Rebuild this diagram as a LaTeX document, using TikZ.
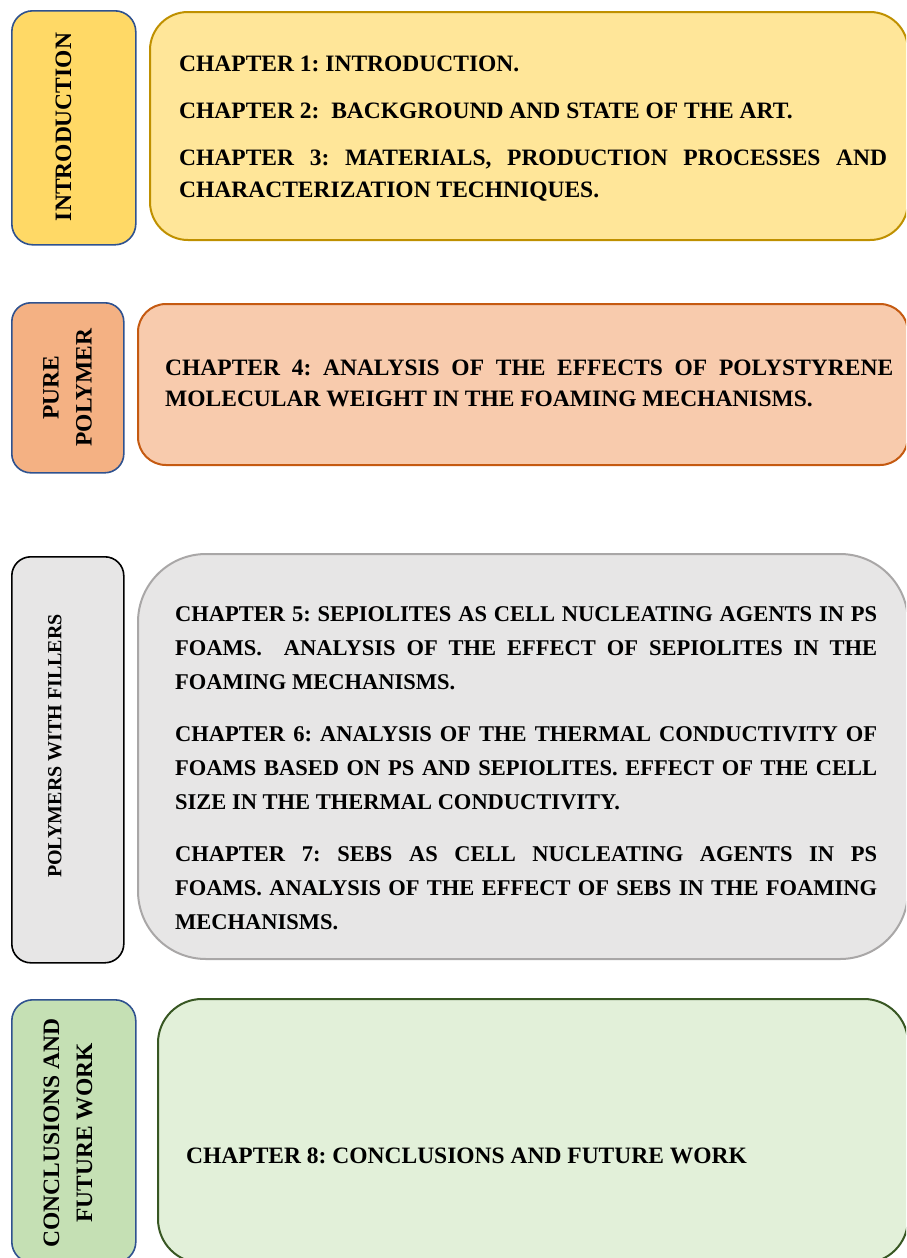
\documentclass[tikz,border=0pt]{standalone}
\usepackage{fontspec}
\setmainfont{Liberation Serif}
\setlength{\parindent}{0pt}
\setlength{\parskip}{0pt}
\frenchspacing

\definecolor{tabblue}{HTML}{2F528F}
\definecolor{introtab}{HTML}{FFD966}
\definecolor{introfill}{HTML}{FFE699}
\definecolor{introedge}{HTML}{BF9000}
\definecolor{puretab}{HTML}{F4B183}
\definecolor{purefill}{HTML}{F8CBAD}
\definecolor{pureedge}{HTML}{C55A11}
\definecolor{filltab}{HTML}{E7E6E6}
\definecolor{fillfill}{HTML}{E7E6E6}
\definecolor{filledge}{HTML}{A9A7A7}
\definecolor{conctab}{HTML}{C5E0B4}
\definecolor{concfill}{HTML}{E2F0D9}
\definecolor{concedge}{HTML}{385723}

\tikzset{
  tab/.style={draw=tabblue, line width=1.6pt, anchor=north west, inner sep=0pt},
  chapbox/.style={line width=2pt, anchor=north west, inner sep=0pt},
  partlabel/.style={font=\fontsize{23.5}{33}\selectfont\bfseries, rotate=90,
    align=center, inner sep=0pt},
  chaptext/.style={anchor=north west, inner sep=0pt, align=justify},
  chapfont/.style 2 args={font=\fontsize{#1}{#2}\selectfont\bfseries}
}

\begin{document}
\begin{tikzpicture}[x=1pt,y=-1pt]
\useasboundingbox (0,0) rectangle (906,1258);
\clip (0,0) rectangle (906,1258);
\hyphenpenalty=10000
\exhyphenpenalty=10000

% ---- Introduction ----
\node[tab, fill=introtab, rounded corners=21pt,
  minimum width=124pt, minimum height=234pt] (tabintro) at (11,10) {};
\node[chapbox, draw=introedge, fill=introfill, rounded corners=38pt,
  minimum width=758pt, minimum height=228pt] (boxintro) at (149,11) {};
\node[partlabel] (labintro) at (63.5,127) {INTRODUCTION};
\node[chaptext, chapfont={23.5}{32}, text width=708pt] (txtintro) at (179,56)
  {CHAPTER 1: INTRODUCTION.\par\vspace{14.5pt}
   CHAPTER 2:\ \ BACKGROUND AND STATE OF THE ART.\par\vspace{15pt}
   CHAPTER 3: MATERIALS, PRODUCTION PROCESSES AND\linebreak
   CHARACTERIZATION TECHNIQUES.};

% ---- Pure polymer ----
\node[tab, fill=puretab, rounded corners=19pt,
  minimum width=112pt, minimum height=170pt] (tabpure) at (11,302) {};
\node[chapbox, draw=pureedge, fill=purefill, rounded corners=28pt,
  minimum width=770pt, minimum height=161pt] (boxpure) at (137,303) {};
\node[partlabel] (labpure) at (67.5,387.5) {PURE\\POLYMER};
\node[chaptext, chapfont={23.5}{31}, text width=728pt] (txtpure) at (165,360)
  {CHAPTER 4: ANALYSIS OF THE EFFECTS OF POLYSTYRENE\linebreak
   MOLECULAR WEIGHT IN THE FOAMING MECHANISMS.};

% ---- Polymers with fillers ----
\node[tab, draw=black, fill=filltab, rounded corners=19pt,
  minimum width=112pt, minimum height=406pt] (tabfill) at (11,556) {};
\node[chapbox, draw=filledge, fill=fillfill, rounded corners=68pt,
  minimum width=770pt, minimum height=405pt] (boxfill) at (137,553) {};
\node[partlabel, font=\fontsize{20}{28}\selectfont\bfseries] (labfill) at (55,746)
  {POLYMERS WITH FILLERS};
\node[chaptext, chapfont={22.5}{34}, text width=702pt] (txtfill) at (175,606)
  {CHAPTER 5: SEPIOLITES AS CELL NUCLEATING AGENTS IN PS\linebreak
   FOAMS.\ \ ANALYSIS OF THE EFFECT OF SEPIOLITES IN THE\linebreak
   FOAMING MECHANISMS.\par\vspace{18pt}
   CHAPTER 6: ANALYSIS OF THE THERMAL CONDUCTIVITY OF\linebreak
   FOAMS BASED ON PS AND SEPIOLITES. EFFECT OF THE CELL\linebreak
   SIZE IN THE THERMAL CONDUCTIVITY.\par\vspace{18pt}
   CHAPTER 7: SEBS AS CELL NUCLEATING AGENTS IN PS\linebreak
   FOAMS. ANALYSIS OF THE EFFECT OF SEBS IN THE FOAMING\linebreak
   MECHANISMS.};

% ---- Conclusions ----
\node[tab, fill=conctab, rounded corners=21pt,
  minimum width=124pt, minimum height=263pt] (tabconc) at (11,999) {};
\node[chapbox, draw=concedge, fill=concfill, rounded corners=44pt,
  minimum width=750pt, minimum height=264pt] (boxconc) at (157,998) {};
\node[partlabel] (labconc) at (68,1133) {CONCLUSIONS AND\\FUTURE WORK};
\node[anchor=base west, inner sep=0pt, chapfont={23.5}{32}] (txtconc) at (186,1163)
  {CHAPTER 8: CONCLUSIONS AND FUTURE WORK};
\end{tikzpicture}
\end{document}
